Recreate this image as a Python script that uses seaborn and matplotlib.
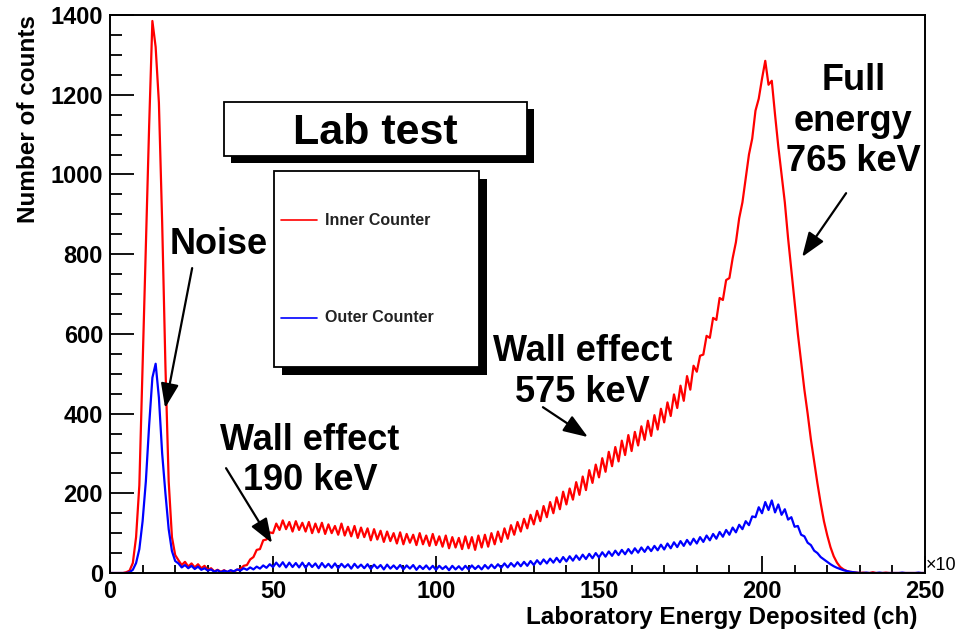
import matplotlib
matplotlib.use("Agg")
import matplotlib.pyplot as plt
import numpy as np
import pandas as pd
import seaborn as sns
from matplotlib.lines import Line2D
from matplotlib.patches import Rectangle
from matplotlib.ticker import MultipleLocator

# Counts per channel (1 channel = 1 unit on the x axis)
inner_counts = [
    0, 0, 0, 0, 0, 2, 6, 25, 90, 220,
    520, 830, 1120, 1385, 1320, 1180, 880, 520, 230, 90,
    45, 32, 20, 28, 16, 24, 14, 22, 12, 18,
    8, 12, 4, 8, 3, 7, 2, 6, 4, 8,
    10, 18, 20, 34, 40, 58, 60, 82, 84, 102,
    100, 124, 108, 132, 110, 128, 104, 130, 108, 126,
    104, 128, 100, 124, 102, 126, 98, 122, 100, 118,
    96, 124, 94, 116, 92, 118, 88, 114, 90, 112,
    82, 110, 84, 106, 78, 104, 80, 100, 74, 102,
    72, 98, 76, 96, 70, 100, 72, 94, 68, 98,
    70, 92, 66, 94, 62, 90, 64, 88, 60, 92,
    62, 90, 58, 94, 64, 96, 66, 100, 72, 104,
    78, 112, 86, 120, 96, 128, 104, 136, 112, 146,
    122, 156, 130, 168, 140, 178, 150, 190, 160, 204,
    172, 212, 184, 228, 196, 242, 208, 258, 226, 272,
    240, 288, 254, 304, 268, 316, 280, 332, 296, 346,
    306, 354, 320, 368, 334, 382, 344, 396, 360, 412,
    378, 428, 394, 448, 414, 470, 432, 494, 460, 520,
    505, 545, 548, 595, 590, 640, 635, 690, 685, 735,
    740, 790, 830, 890, 930, 990, 1050, 1090, 1160, 1190,
    1240, 1285, 1225, 1235, 1150, 1070, 1000, 930, 840, 760,
    680, 600, 530, 460, 400, 335, 280, 225, 175, 130,
    95, 65, 42, 26, 15, 9, 5, 3, 2, 1,
    0, 1, 0, 0, 2, 0, 0, 0, 1, 0,
    0, 0, 0, 0, 0, 0, 0, 0, 0, 0,
    0,
]
outer_counts = [
    0, 0, 0, 0, 0, 0, 2, 8, 25, 60,
    130, 230, 370, 490, 525, 440, 300, 200, 110, 55,
    30, 24, 14, 20, 12, 18, 10, 16, 8, 12,
    6, 9, 3, 7, 2, 6, 3, 7, 4, 9,
    6, 12, 8, 14, 9, 16, 11, 19, 13, 22,
    15, 26, 16, 27, 14, 26, 15, 25, 14, 26,
    13, 25, 15, 24, 12, 25, 14, 23, 13, 24,
    12, 23, 14, 22, 11, 23, 13, 21, 12, 22,
    10, 21, 12, 20, 9, 21, 11, 19, 10, 20,
    9, 19, 11, 20, 8, 18, 10, 19, 9, 18,
    8, 18, 10, 17, 7, 18, 9, 17, 8, 18,
    9, 19, 10, 18, 9, 20, 11, 21, 12, 22,
    13, 24, 14, 25, 16, 27, 17, 28, 18, 30,
    20, 32, 22, 34, 24, 36, 26, 38, 27, 40,
    29, 42, 31, 44, 33, 46, 35, 48, 37, 50,
    39, 52, 41, 54, 43, 56, 45, 58, 47, 60,
    49, 62, 51, 64, 53, 66, 55, 68, 57, 71,
    59, 74, 62, 77, 65, 80, 68, 83, 71, 86,
    74, 90, 78, 94, 82, 98, 86, 103, 91, 108,
    96, 114, 102, 121, 110, 130, 120, 142, 140, 165,
    150, 178, 158, 182, 152, 172, 146, 160, 134, 140,
    116, 118, 96, 92, 76, 70, 56, 50, 40, 34,
    28, 22, 17, 13, 10, 7, 5, 3, 2, 1,
    0, 0, 1, 0, 0, 0, 1, 0, 0, 0,
    0, 0, 0, 1, 0, 0, 0, 0, 1, 0,
    0,
]
series_names = ["Inner Counter", "Outer Counter"]
series_colors = ["#ff0000", "#0000ff"]
x_ticks = [0, 50, 100, 150, 200, 250]
y_ticks = [0, 200, 400, 600, 800, 1000, 1200, 1400]

W, H = 958, 635


def fx(px):
    return px / W


def fy(py):
    return 1 - py / H


def shadow_box(fig, x0, y0, x1, y1, off):
    """Box with a solid black drop shadow, given in pixel coords."""
    fig.add_artist(Rectangle((fx(x0 + off), fy(y1 + off)), (x1 - x0) / W, (y1 - y0) / H,
                             transform=fig.transFigure, facecolor="black", edgecolor="none"))
    fig.add_artist(Rectangle((fx(x0), fy(y1)), (x1 - x0) / W, (y1 - y0) / H,
                             transform=fig.transFigure, facecolor="white", edgecolor="black", lw=1.3))


def main():
    channels = np.arange(len(inner_counts))
    data = pd.DataFrame({
        "channel": np.concatenate([channels, channels]),
        "counts": inner_counts + outer_counts,
        "counter": [series_names[0]] * len(channels) + [series_names[1]] * len(channels),
    })

    sns.set_style("ticks")
    plt.rcParams["font.family"] = ["Liberation Sans", "DejaVu Sans"]
    plt.rcParams["font.weight"] = "bold"
    for key in ["text.color", "axes.labelcolor", "xtick.color", "ytick.color"]:
        plt.rcParams[key] = "black"

    fig = plt.figure(figsize=(W / 100, H / 100), dpi=100)
    ax = fig.add_axes([fx(110), fy(573), (925 - 110) / W, (573 - 15) / H])

    sns.lineplot(data=data, x="channel", y="counts", hue="counter", hue_order=series_names,
                 palette=dict(zip(series_names, series_colors)), estimator=None,
                 linewidth=1.6, legend=False, ax=ax)

    ax.set_xlim(0, 250)
    ax.set_ylim(0, 1400)
    ax.set_xticks(x_ticks)
    ax.set_yticks(y_ticks)
    ax.xaxis.set_minor_locator(MultipleLocator(10))
    ax.yaxis.set_minor_locator(MultipleLocator(50))
    ax.tick_params(which="both", labelsize=17, direction="in", width=1.3, colors="black",
                   top=False, right=False)
    ax.tick_params(axis="x", which="major", length=12.5, pad=5)
    ax.tick_params(axis="x", which="minor", length=6)
    ax.tick_params(axis="y", which="major", length=17, pad=5)
    ax.tick_params(axis="y", which="minor", length=8.5)
    for side in ["left", "bottom", "right", "top"]:
        ax.spines[side].set_visible(True)
        ax.spines[side].set_linewidth(1.4)
        ax.spines[side].set_color("black")

    ax.set_xlabel("Laboratory Energy Deposited (ch)", fontsize=17.5, weight="bold")
    ax.xaxis.label.set_ha("right")
    ax.xaxis.label.set_va("center")
    ax.xaxis.set_label_coords(0.991, -0.079)
    ax.set_ylabel("Number of counts", fontsize=17.5, weight="bold")
    ax.yaxis.label.set_ha("right")
    ax.yaxis.label.set_va("center")
    ax.yaxis.set_label_coords(-0.1, 1.0)

    fig.text(fx(926), fy(566), "\u00d710", fontsize=13, weight="normal", va="center", ha="left")

    # annotations
    font = {"fontsize": 26, "weight": "bold", "ha": "center", "va": "center", "linespacing": 1.2}
    arrow = dict(arrowstyle="-|>,head_length=0.6,head_width=0.22", color="black", lw=1.6,
                 mutation_scale=25, shrinkA=0, shrinkB=0)
    ax.text(33.4, 823, "Noise", **font)
    ax.annotate("", xy=(16.9, 414), xytext=(25.2, 765), arrowprops=arrow)
    ax.text(61.3, 283, "Wall effect\n190 keV", **font)
    ax.annotate("", xy=(49.7, 75), xytext=(35.6, 263), arrowprops=arrow)
    ax.text(145, 504, "Wall effect\n575 keV", **font)
    ax.annotate("", xy=(146.6, 341), xytext=(132.8, 416), arrowprops=arrow)
    ax.text(228, 1134, "Full\nenergy\n765 keV", **font)
    ax.annotate("", xy=(212.3, 793), xytext=(225.8, 953), arrowprops=arrow)

    # title box
    shadow_box(fig, 224, 102, 527, 156, 7)
    fig.text(fx(375), fy(133), "Lab test", fontsize=31, weight="bold", ha="center", va="center")

    # legend box
    shadow_box(fig, 274, 171, 479, 367, 8)
    for (name, color, py) in zip(series_names, series_colors, [220, 318]):
        fig.add_artist(Line2D([fx(281), fx(317)], [fy(py), fy(py)], transform=fig.transFigure,
                              color=color, lw=1.2))
        fig.text(fx(325), fy(py), name, fontsize=11.5, weight="bold", va="center", ha="left",
                 color="#222222")

    fig.savefig("out.png", dpi=100)


if __name__ == "__main__":
    main()
